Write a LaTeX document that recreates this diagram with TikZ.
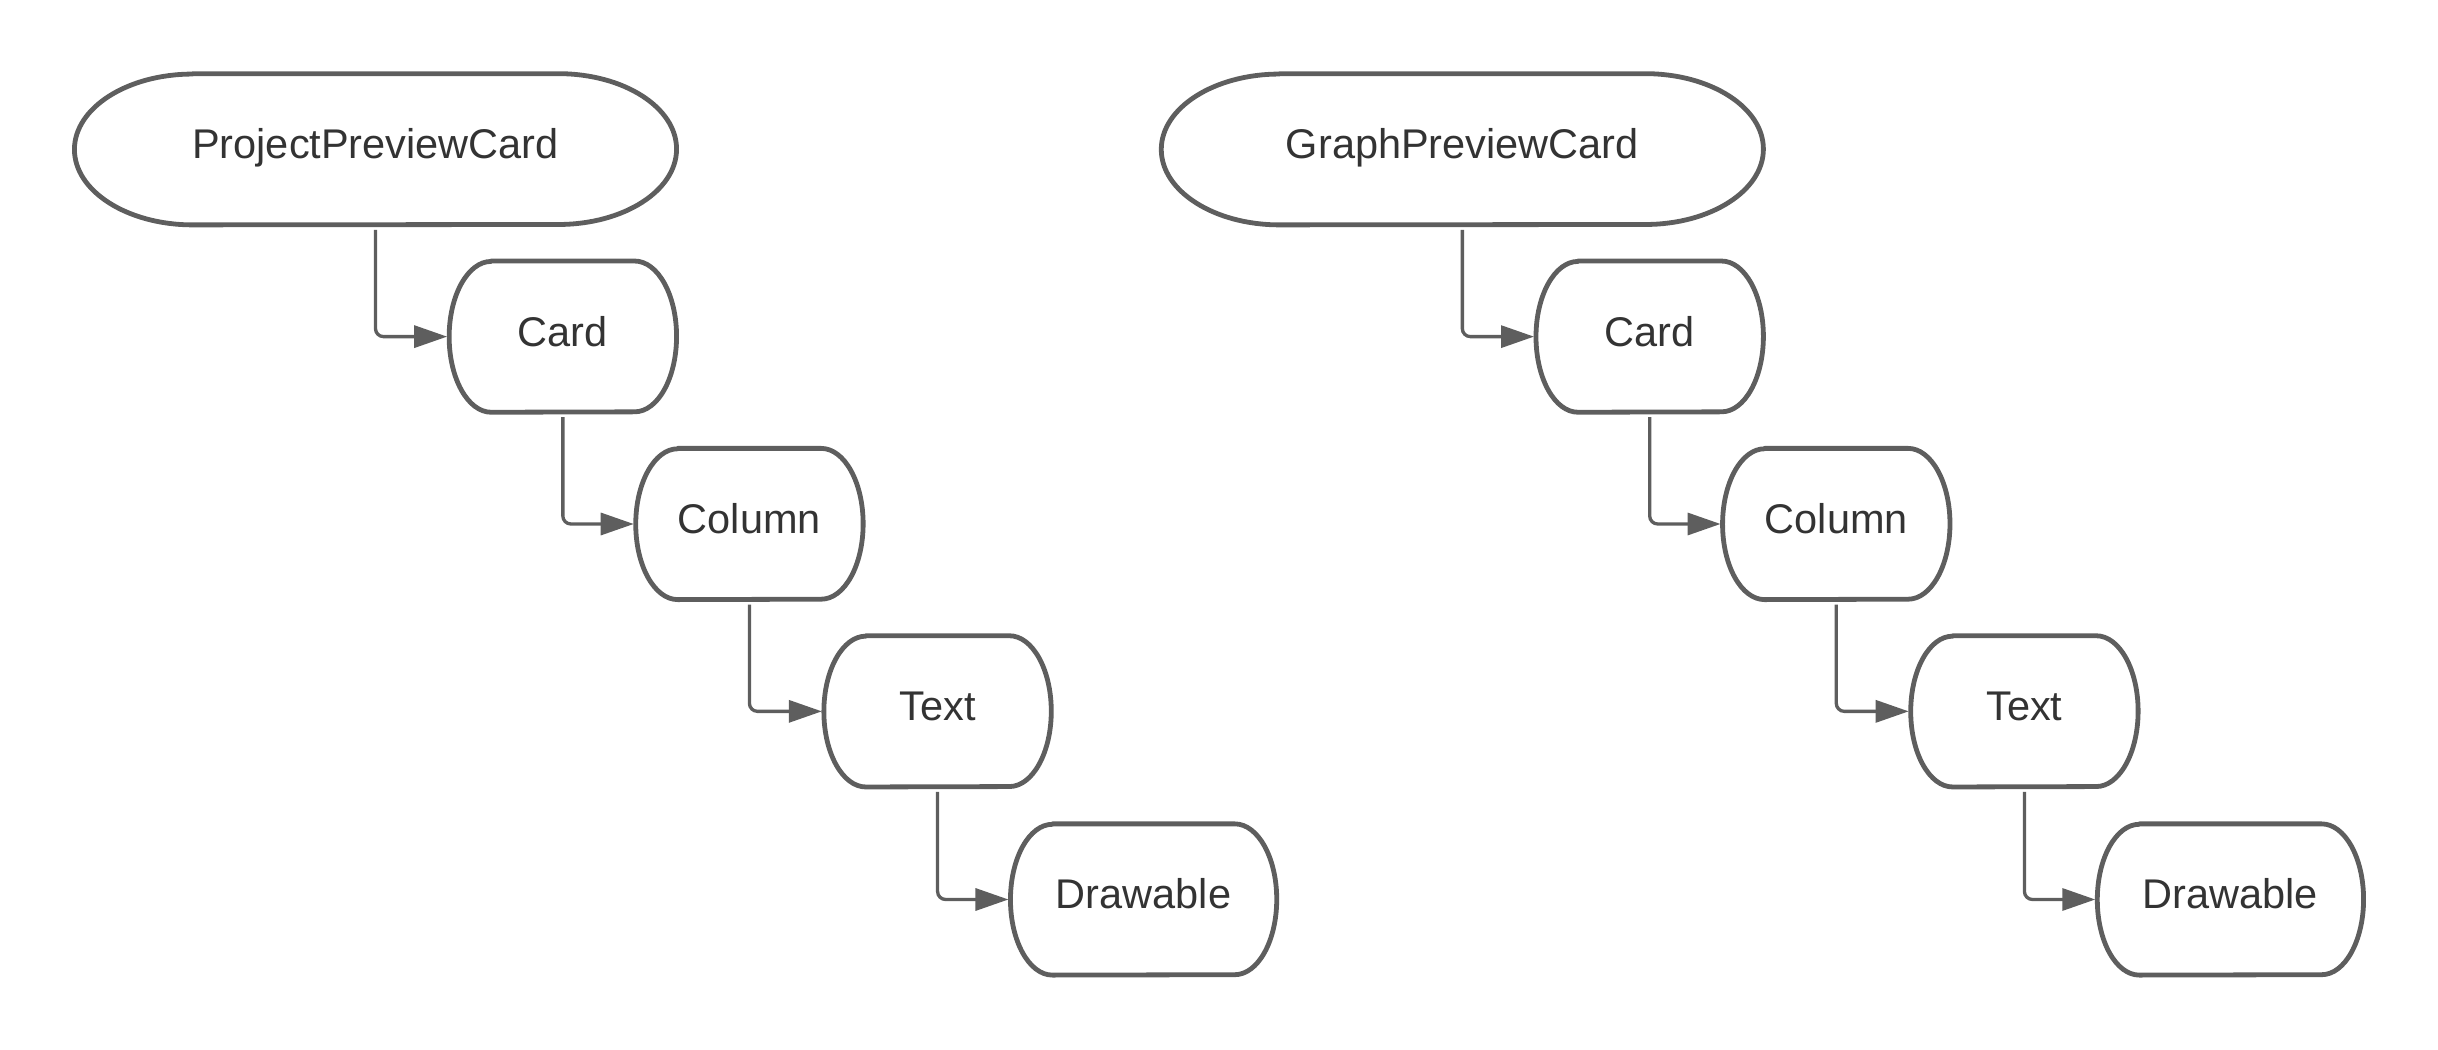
\documentclass[tikz,border=0pt]{standalone}
\usepackage{fontspec}
\setmainfont{Liberation Sans}
\usetikzlibrary{arrows.meta}
\definecolor{edge}{HTML}{5E5E5E}
\definecolor{ink}{HTML}{333333}
\def\u{1.5548pt}
\tikzset{
  box/.style={inner sep=0pt, text=ink, font=\fontsize{41.5}{49}\selectfont,
    text height=30pt, text depth=11pt, minimum height=97*\u},
  outl/.style={draw=edge, line width=4.8pt, line join=round},
  conn/.style={draw=edge, line width=3.3pt, rounded corners=8pt,
    -{Triangle[length=33pt,width=22pt]}, shorten >=2pt},
}
% name, cx, cy, width, rx, text
\newcommand\stad[6]{%
  \node[box, minimum width=#4*\u] (#1) at (#2,-#3) {#6};
  \draw[outl] ([xshift=#5*\u]#1.north west) -- ([xshift=-#5*\u]#1.north east)
    arc[start angle=90, end angle=-90, x radius=#5*\u, y radius=48.5*\u]
    -- ([xshift=#5*\u]#1.south west)
    arc[start angle=270, end angle=90, x radius=#5*\u, y radius=48.5*\u] -- cycle;
}
\begin{document}
\begin{tikzpicture}[x=1.5548pt, y=1.5548pt]
\useasboundingbox (0,0) rectangle (1568,-675);
% left chain
\stad{l0}{241.5}{96}{387}{76}{ProjectPreviewCard}
\stad{l1}{362}{216.5}{146}{27}{Card}
\stad{l2}{482}{337}{146}{27}{Column}
\stad{l3}{603}{457.5}{146}{27}{Text}
\stad{l4}{735.5}{578.5}{171}{27}{Drawable}
% right chain
\stad{r0}{940.5}{96}{387}{76}{GraphPreviewCard}
\stad{r1}{1061}{216.5}{146}{27}{Card}
\stad{r2}{1181}{337}{146}{27}{Column}
\stad{r3}{1302}{457.5}{146}{27}{Text}
\stad{r4}{1434.5}{578.5}{171}{27}{Drawable}
% connectors
\foreach \s in {l,r}{
  \draw[conn] ([yshift=-5pt]\s0.south) |- (\s1.west);
  \draw[conn] ([yshift=-5pt]\s1.south) |- (\s2.west);
  \draw[conn] ([yshift=-5pt]\s2.south) |- (\s3.west);
  \draw[conn] ([yshift=-5pt]\s3.south) |- (\s4.west);
}
\end{tikzpicture}
\end{document}
